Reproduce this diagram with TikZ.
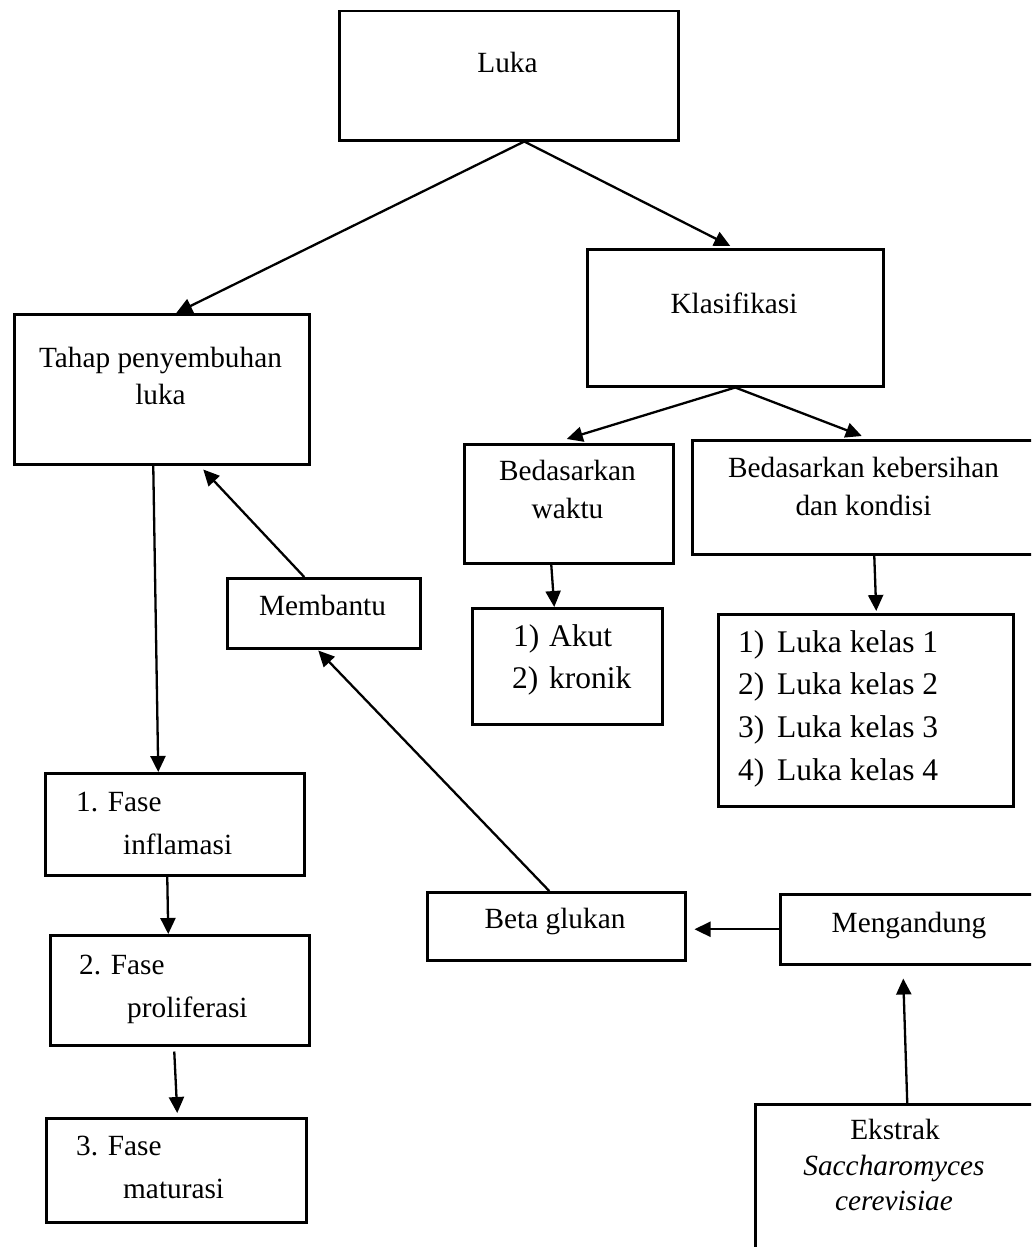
\documentclass[tikz,border=0pt]{standalone}
\usepackage{fontspec}
\setmainfont{Liberation Serif}
\usetikzlibrary{arrows.meta}
\tikzset{
  box/.style={draw, line width=2.5pt, rectangle, inner sep=0pt, anchor=north west},
  arr/.style={line width=2.3pt, -{Triangle[length=16pt,width=15pt]}},
  txt/.style={inner sep=0pt, anchor=base, font=\fontsize{29.3}{35}\selectfont},
  txtl/.style={txt, anchor=base west},
  lst/.style={inner sep=0pt, anchor=base west, font=\fontsize{31.5}{38}\selectfont},
}
\newcommand{\bx}[5]{\node[box, minimum width=#4pt-#2pt, minimum height=#5pt-#3pt] (#1) at (#2,#3) {};}
\begin{document}
\begin{tikzpicture}[x=1pt, y=-1pt]
\useasboundingbox (0,0) rectangle (1031,1247);
\clip (0,0) rectangle (1031,1247);
\fill[white] (0,0) rectangle (1031,1247);
% boxes
\bx{luka}{338}{10}{677}{139}
\bx{tahap}{13}{313}{308}{463}
\bx{klas}{586}{248}{882}{385}
\bx{bw}{463}{443}{672}{562}
\bx{bk}{691}{439}{1036}{553}
\bx{akut}{471}{607}{661}{723}
\bx{kelas}{717}{613}{1012}{805}
\bx{membantu}{226}{577}{419}{647}
\bx{fase1}{44}{772}{303}{874}
\bx{fase2}{49}{934}{308}{1044}
\bx{fase3}{45}{1117}{305}{1221}
\bx{beta}{426}{891}{684}{959}
\bx{meng}{779}{893}{1039}{963}
\bx{ekstrak}{754}{1103}{1034}{1262}
% texts
\node[txt] (tLuka) at (507.5,72) {Luka};
\node[txt] (tTahap1) at (160.5,367) {Tahap penyembuhan};
\node[txt] (tTahap2) at (160.5,404) {luka};
\node[txt] (tKlas) at (734,313) {Klasifikasi};
\node[txt] (tBw1) at (567.5,480) {Bedasarkan};
\node[txt] (tBw2) at (567.5,518) {waktu};
\node[txt] (tBk1) at (863.5,477) {Bedasarkan kebersihan};
\node[txt] (tBk2) at (863.5,515) {dan kondisi};
\node[lst] (nA1) at (513,646) {1)};
\node[lst] (tA1) at (549,646) {Akut};
\node[lst] (nA2) at (512,688) {2)};
\node[lst] (tA2) at (549,688) {kronik};
\node[lst] (nK1) at (738,652) {1)};
\node[lst] (tK1) at (777,652) {Luka kelas 1};
\node[lst] (nK2) at (738,694) {2)};
\node[lst] (tK2) at (777,694) {Luka kelas 2};
\node[lst] (nK3) at (738,737) {3)};
\node[lst] (tK3) at (777,737) {Luka kelas 3};
\node[lst] (nK4) at (738,780) {4)};
\node[lst] (tK4) at (777,780) {Luka kelas 4};
\node[txt] (tMem) at (322.5,615) {Membantu};
\node[txtl] (tF1a) at (76,811) {1. Fase};
\node[txtl] (tF1b) at (123,854) {inflamasi};
\node[txtl] (tF2a) at (79,974) {2. Fase};
\node[txtl] (tF2b) at (127,1017) {proliferasi};
\node[txtl] (tF3a) at (76,1155) {3. Fase};
\node[txtl] (tF3b) at (123,1198) {maturasi};
\node[txt] (tBeta) at (555,928) {Beta glukan};
\node[txt] (tMeng) at (909,932) {Mengandung};
\node[txt] (tEk1) at (895,1139) {Ekstrak};
\node[txt] (tEk2) at (894,1175) {\itshape Saccharomyces};
\node[txt] (tEk3) at (894,1210) {\itshape cerevisiae};
% connectors
\draw[arr] ([xshift=15.5pt]luka.south) -- ([xshift=14.5pt]tahap.north);
\draw[arr] ([xshift=15.5pt]luka.south) -- ([xshift=-5pt,yshift=2pt]klas.north);
\draw[arr] (klas.south) -- ([xshift=-2pt,yshift=4pt]bw.north);
\draw[arr] (klas.south) -- ([xshift=-3pt,yshift=3pt]bk.north);
\draw[arr] ([xshift=-8.5pt]tahap.south) -- ([xshift=-16.5pt]fase1.north);
\draw[arr] ([xshift=-7.5pt]fase1.south) -- ([xshift=-11.5pt]fase2.north);
\draw[arr] ([xshift=-5.5pt,yshift=-5pt]fase2.south) -- ([xshift=1pt,yshift=4pt]fase3.north);
\draw[arr] ([xshift=-17.5pt]bw.south) -- ([xshift=-13pt]akut.north);
\draw[arr] ([xshift=9.5pt]bk.south) -- ([xshift=10.5pt,yshift=2pt]kelas.north);
\draw[arr] ([xshift=-19.5pt]membantu.north) -- ([xshift=41.5pt,yshift=-4pt]tahap.south);
\draw[arr] ([xshift=-7pt]beta.north) -- ([xshift=-5.5pt,yshift=-1pt]membantu.south);
\draw[arr] (meng.west) -- ([xshift=8pt]beta.east |- meng.west);
\draw[arr] ([xshift=12pt]ekstrak.north) -- ([xshift=-7pt,yshift=-13pt]meng.south);
\end{tikzpicture}
\end{document}
